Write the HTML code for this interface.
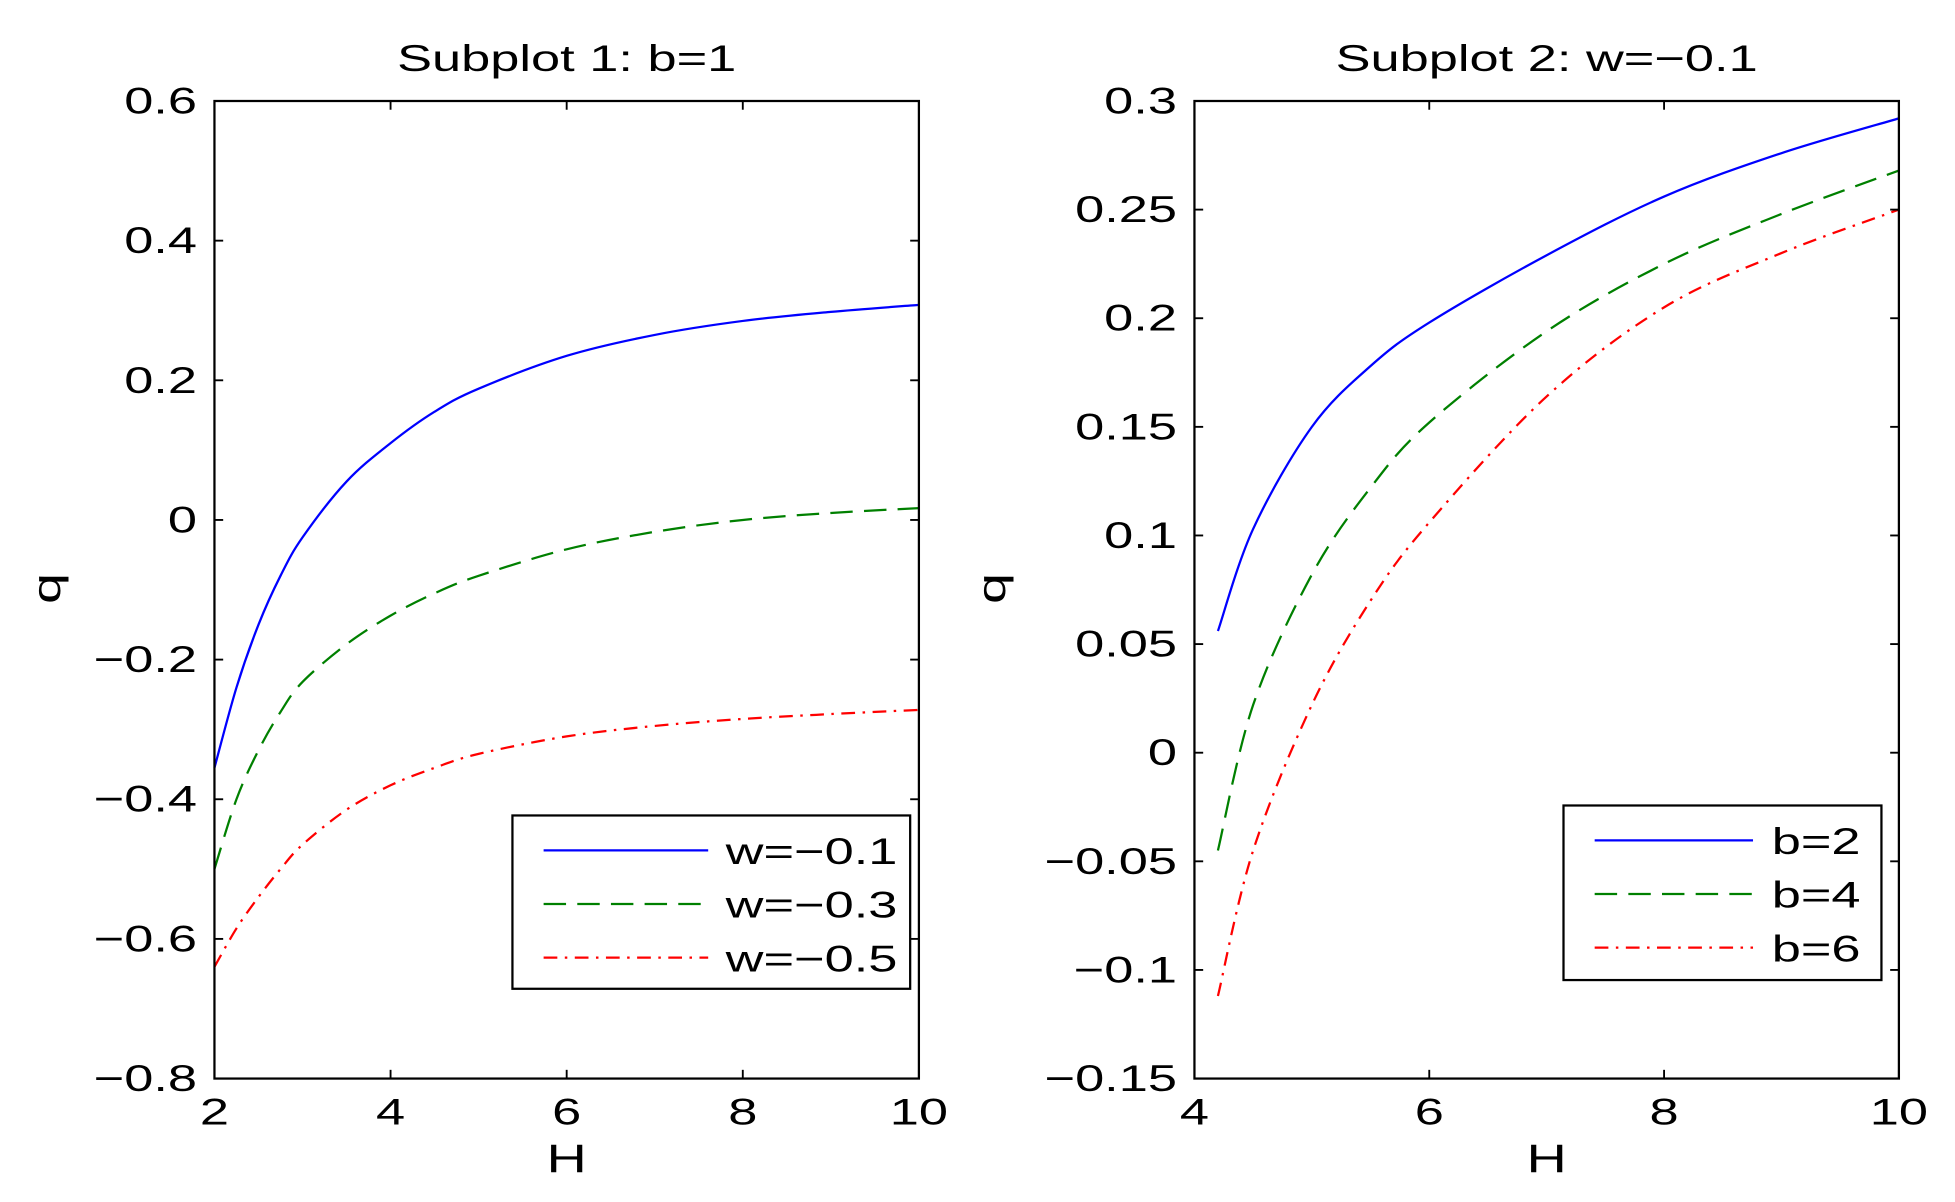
<!DOCTYPE html>
<html><head><meta charset="utf-8"><style>
html,body{margin:0;padding:0;background:#fff;}
svg{display:block;}
text{font-family:"Liberation Sans",sans-serif;fill:#000;}
</style></head><body>
<svg id="fig" width="1955" height="1202" viewBox="0 0 1568 964" preserveAspectRatio="none" xmlns="http://www.w3.org/2000/svg"></svg>
<script>
// Subplot 1 data
const h1 = [2, 2.25, 2.5, 2.75, 3, 3.5, 4, 4.5, 5, 6, 7, 8, 9, 10];
const q1_w01 = [-0.355, -0.24, -0.15, -0.08, -0.025, 0.055, 0.11, 0.155, 0.188, 0.235, 0.265, 0.285, 0.298, 0.308];
const q1_w03 = [-0.5, -0.4, -0.33, -0.275, -0.232, -0.178, -0.137, -0.105, -0.08, -0.042, -0.017, 0.0, 0.01, 0.017];
const q1_w05 = [-0.64, -0.585, -0.54, -0.5, -0.465, -0.415, -0.38, -0.355, -0.335, -0.31, -0.295, -0.285, -0.278, -0.272];
const legend1 = ["w=\u22120.1", "w=\u22120.3", "w=\u22120.5"];
const yTicks1 = [0.6, 0.4, 0.2, 0, -0.2, -0.4, -0.6, -0.8];
const yTickLabels1 = ["0.6", "0.4", "0.2", "0", "\u22120.2", "\u22120.4", "\u22120.6", "\u22120.8"];
const xTicks1 = [2, 4, 6, 8, 10];
// Subplot 2 data
const h2 = [4.2, 4.5, 5, 5.5, 6, 7, 8, 9, 10];
const q2_b2 = [0.056, 0.103, 0.15, 0.178, 0.198, 0.229, 0.256, 0.276, 0.292];
const q2_b4 = [-0.045, 0.022, 0.082, 0.122, 0.152, 0.194, 0.225, 0.248, 0.268];
const q2_b6 = [-0.112, -0.045, 0.022, 0.07, 0.106, 0.164, 0.205, 0.23, 0.25];
const legend2 = ["b=2", "b=4", "b=6"];
const yTicks2 = [0.3, 0.25, 0.2, 0.15, 0.1, 0.05, 0, -0.05, -0.1, -0.15];
const yTickLabels2 = ["0.3", "0.25", "0.2", "0.15", "0.1", "0.05", "0", "\u22120.05", "\u22120.1", "\u22120.15"];
const xTicks2 = [4, 6, 8, 10];

const NS = "http://www.w3.org/2000/svg";
const svg = document.getElementById('fig');
const FS = 30, SX = 1.4;
function mk(tag, attrs, parent) {
  const e = document.createElementNS(NS, tag);
  for (const k in attrs) e.setAttribute(k, attrs[k]);
  (parent || svg).appendChild(e);
  return e;
}
function txt(parent, x, y, anchor, s, size) {
  const t = mk('text', { x: 0, y: 0, "text-anchor": anchor, "font-size": size || FS,
    transform: "translate(" + x + "," + y + ") scale(" + SX + ",1)" }, parent);
  t.textContent = s;
  return t;
}
function pathFrom(xs, ys, sx, sy) {
  const p = xs.map((x, i) => [sx(x), sy(ys[i])]);
  let d = "M" + p[0][0] + "," + p[0][1];
  for (let i = 0; i < p.length - 1; i++) {
    const p0 = p[i - 1] || p[i], p1 = p[i], p2 = p[i + 1], p3 = p[i + 2] || p2;
    const c1 = [p1[0] + (p2[0] - p0[0]) / 6, p1[1] + (p2[1] - p0[1]) / 6];
    const c2 = [p2[0] - (p3[0] - p1[0]) / 6, p2[1] - (p3[1] - p1[1]) / 6];
    d += " C" + c1 + " " + c2 + " " + p2;
  }
  return d;
}
const styles = [
  { color: "#0000ff", dash: "" },
  { color: "#008000", dash: "18,9" },
  { color: "#ff0000", dash: "11,6,2,6" }
];
function subplot(cfg) {
  const g = mk('g', {});
  
  
  const L = cfg.L, R = cfg.R, T = 81, B = 865;
  const sx = x => L + (x - cfg.xmin) / (cfg.xmax - cfg.xmin) * (R - L);
  const sy = y => B - (y - cfg.ymin) / (cfg.ymax - cfg.ymin) * (B - T);
  cfg.series.forEach((s, i) => {
    const p = mk('path', { d: pathFrom(cfg.xs, s, sx, sy), fill: "none", stroke: styles[i].color, "stroke-width": 1.8, "stroke-dasharray": styles[i].dash }, g);
    
    
  });
  const box = mk('rect', { x: L, y: T, width: R - L, height: B - T, fill: "none", stroke: "#000", "stroke-width": 1.8 }, g);
  
  
  cfg.yt.forEach((v, i) => {
    const y = sy(v);
    mk('line', { x1: L, x2: L + 7, y1: y, y2: y, stroke: "#000", "stroke-width": 1.5 }, g);
    mk('line', { x1: R, x2: R - 7, y1: y, y2: y, stroke: "#000", "stroke-width": 1.5 }, g);
    const t = txt(g, L - 14, y + 10, "end", cfg.ytl[i]);
    
    
  });
  cfg.xt.forEach(v => {
    const x = sx(v);
    mk('line', { x1: x, x2: x, y1: B, y2: B - 7, stroke: "#000", "stroke-width": 1.5 }, g);
    mk('line', { x1: x, x2: x, y1: T, y2: T + 7, stroke: "#000", "stroke-width": 1.5 }, g);
    const t = txt(g, x, 902, "middle", String(v));
    
    
  });
  const xl = txt(g, (L + R) / 2, 940, "middle", "H", 32);
  
  
  const yl = mk('text', { x: 0, y: 0, "text-anchor": "middle", "font-size": 32, transform: "translate(" + cfg.ylx + ",472) rotate(-90) scale(" + SX + ",1)" }, g);
  yl.textContent = "q";
  
  
  const ti = txt(g, (L + R) / 2, 57, "middle", cfg.title);
  
  
  const lg = mk('g', {}, g);
  
  
  const lb = cfg.leg;
  mk('rect', { x: lb.x, y: lb.y, width: lb.w, height: lb.h, fill: "#fff", stroke: "#000", "stroke-width": 1.8 }, lg);
  cfg.labels.forEach((lab, i) => {
    const yy = lb.y + 28 + i * 43;
    const e = mk('g', {}, lg);
    
    
    mk('line', { x1: lb.x + 25, x2: lb.x + lb.lineEnd, y1: yy, y2: yy, stroke: styles[i].color, "stroke-width": 1.8, "stroke-dasharray": styles[i].dash }, e);
    txt(e, lb.x + lb.textX, yy + 11, "start", lab);
  });
}
subplot({ name: 'subplot-1', L: 172, R: 737, xmin: 2, xmax: 10, ymin: -0.8, ymax: 0.6, xs: h1,
  series: [q1_w01, q1_w03, q1_w05], yt: yTicks1, ytl: yTickLabels1, xt: xTicks1, ylx: 48,
  title: "Subplot 1: b=1", labels: legend1,
  leg: { x: 411, y: 654, w: 319, h: 139, lineEnd: 157, textX: 171 } });
subplot({ name: 'subplot-2', L: 958, R: 1523, xmin: 4, xmax: 10, ymin: -0.15, ymax: 0.3, xs: h2,
  series: [q2_b2, q2_b4, q2_b6], yt: yTicks2, ytl: yTickLabels2, xt: xTicks2, ylx: 806,
  title: "Subplot 2: w=\u22120.1", labels: legend2,
  leg: { x: 1254, y: 646, w: 255, h: 140, lineEnd: 152, textX: 167 } });
</script>
</body></html>
